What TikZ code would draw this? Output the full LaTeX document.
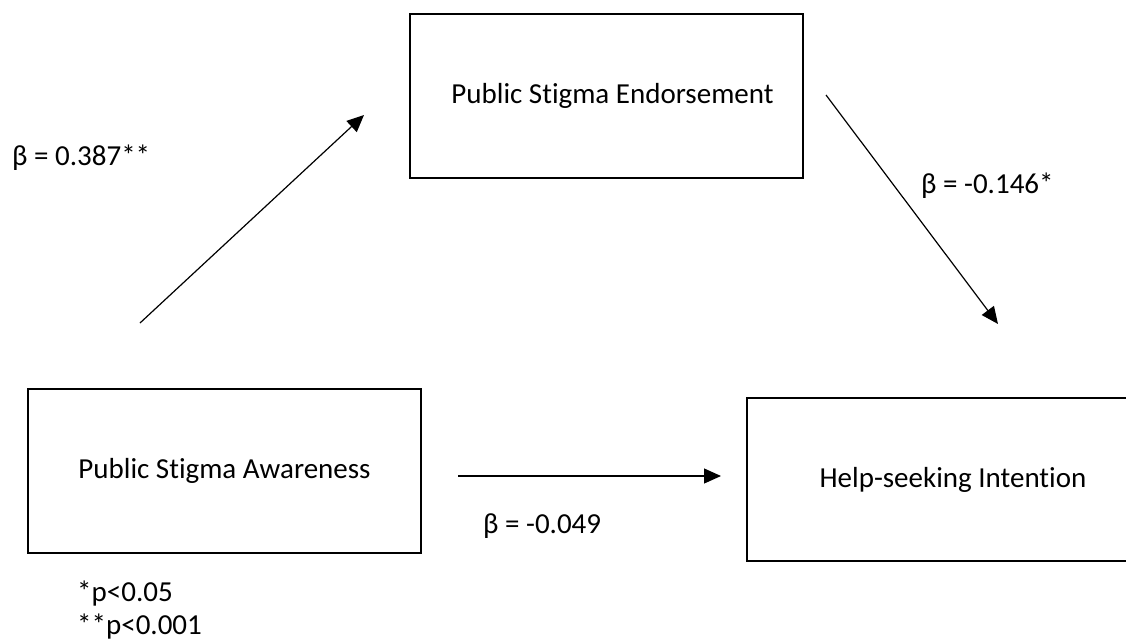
\documentclass[tikz,border=0pt]{standalone}
\usepackage{fontspec}
\setmainfont{Carlito}[Ligatures=NoCommon]
\usetikzlibrary{arrows.meta}
\tikzset{
  box/.style={draw=black, line width=2.8pt, fill=white, inner sep=0pt, font=\fontsize{29}{35}\selectfont},
  lbl/.style={inner sep=0pt, font=\fontsize{29}{35}\selectfont},
  conn/.style={line width=1.2pt, -{Triangle[length=17pt, width=15pt]}}
}
\begin{document}
\begin{tikzpicture}[x=1pt, y=-1pt]
\useasboundingbox (0,0) rectangle (1126,642);
\clip (0,0) rectangle (1126,642);
\node[box, minimum width=393pt, minimum height=164pt] (pse) at (606.5,96) {\hspace{12pt}Public Stigma Endorsement};
\node[box, minimum width=393pt, minimum height=164pt] (psa) at (224.5,471) {Public Stigma Awareness};
\node[box, minimum width=412pt, minimum height=163pt] (hsi) at (953,479.5) {Help-seeking Intention};
\coordinate (a1s) at (140,323);
\coordinate (a1e) at (364,115);
\coordinate (a2s) at (826,95);
\coordinate (a2e) at (998,324);
\coordinate (a3s) at (458,476);
\coordinate (a3e) at (721,476);
\draw[conn] (a1s) -- (a1e);
\draw[conn] (a2s) -- (a2e);
\draw[conn] (a3s) -- (a3e);
\node[lbl, anchor=west] (b1) at (12,158) {β = 0.387**};
\node[lbl, anchor=west] (b2) at (921,186) {β = -0.146*};
\node[lbl, anchor=west] (b3) at (483,526) {β = -0.049};
\node[lbl, anchor=west] (n1) at (77,594) {*p<0.05};
\node[lbl, anchor=west] (n2) at (77,627) {**p<0.001};
\end{tikzpicture}
\end{document}
